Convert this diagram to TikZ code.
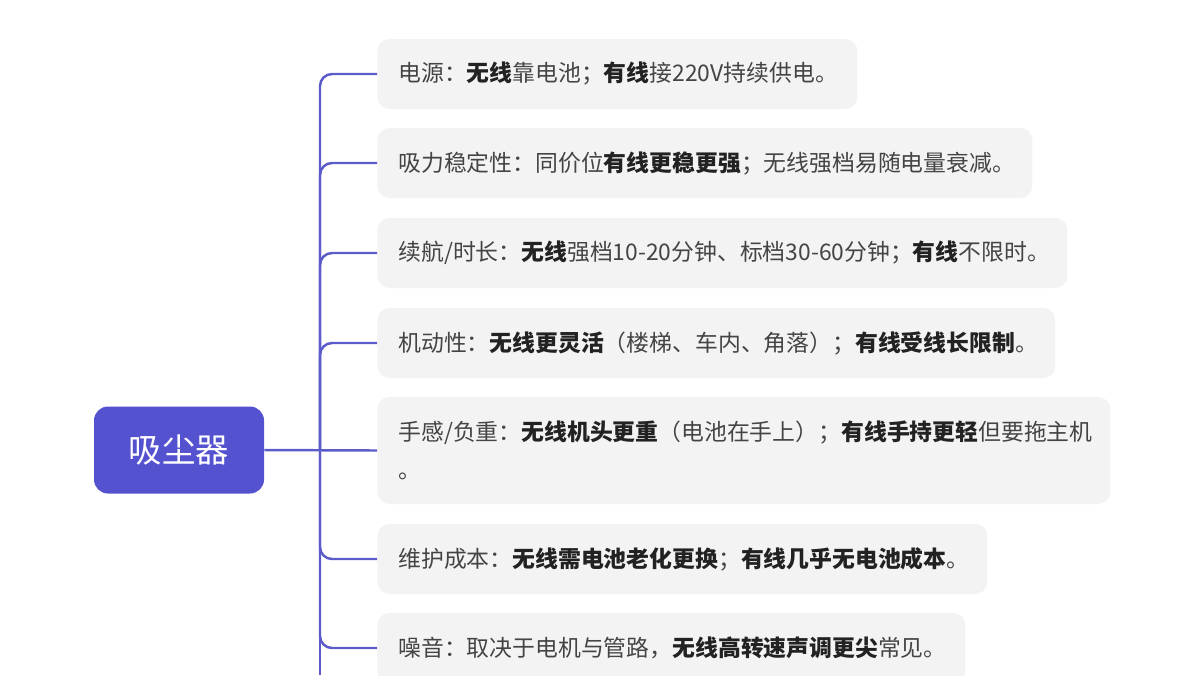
\documentclass[tikz,border=0pt]{standalone}
\usepackage{fontspec}
\setmainfont{Noto Sans CJK SC}
\usetikzlibrary{positioning}

\definecolor{topicblue}{HTML}{5552D0}
\definecolor{linkblue}{HTML}{5B5BC9}
\definecolor{itembg}{HTML}{F3F3F3}
\definecolor{txtgray}{HTML}{444444}
\definecolor{txtdark}{HTML}{222222}

\newcommand{\hl}[1]{\textbf{\color{txtdark}#1}}
\exhyphenpenalty=10000

\tikzset{
  topic/.style={fill=topicblue, text=white, rounded corners=0.28cm, minimum width=3.4cm, minimum height=1.74cm, font=\fontsize{19}{22}\selectfont},
  item/.style={fill=itembg, rounded corners=0.24cm, anchor=west, minimum height=1.4cm, inner xsep=0.42cm, align=left, text=txtgray, font=\fontsize{13}{21.6}\selectfont},
  link/.style={draw=linkblue, line width=1.4pt, rounded corners=0.24cm}
}

\begin{document}
\begin{tikzpicture}
\useasboundingbox (0,0) rectangle (24,-13.5);

% Central topic
\node[topic] (root) at (3.58,-9.0) {吸尘器};

% Branch items
\node[item, text width=8.76cm] (power) at (7.54,-1.48) {电源：\hl{无线}靠电池；\hl{有线}接220V持续供电。};
\node[item, text width=12.26cm] (suction) at (7.54,-3.26) {吸力稳定性：同价位\hl{有线更稳更强}；无线强档易随电量衰减。};
\node[item, text width=12.96cm] (runtime) at (7.54,-5.06) {续航/时长：\hl{无线}强档10\mbox{-}20分钟、标档30\mbox{-}60分钟；\hl{有线}不限时。};
\node[item, text width=12.72cm] (mobility) at (7.54,-6.86) {机动性：\hl{无线更灵活}（楼梯、车内、角落）；\hl{有线受线长限制}。};
\node[item, text width=13.82cm, minimum height=2.14cm] (weight) at (7.54,-9.01) {手感/负重：\hl{无线机头更重}（电池在手上）；\hl{有线手持更轻}但要拖主机\\。};
\node[item, text width=11.36cm] (upkeep) at (7.54,-11.18) {维护成本：\hl{无线需电池老化更换}；\hl{有线几乎无电池成本}。};
\node[item, text width=10.92cm] (noise) at (7.54,-12.96) {噪音：取决于电机与管路，\hl{无线高转速声调更尖}常见。};

% Connectors
\coordinate (trunk) at (6.4,-9.0);
\coordinate (trunkend) at (6.4,-13.5);
\draw[link] (root.east) -- (weight.west);
\draw[link] (trunk) -- (trunkend);
\foreach \n in {power,suction,runtime,mobility,upkeep,noise}
  \draw[link] (trunk) |- (\n.west);

\end{tikzpicture}
\end{document}
